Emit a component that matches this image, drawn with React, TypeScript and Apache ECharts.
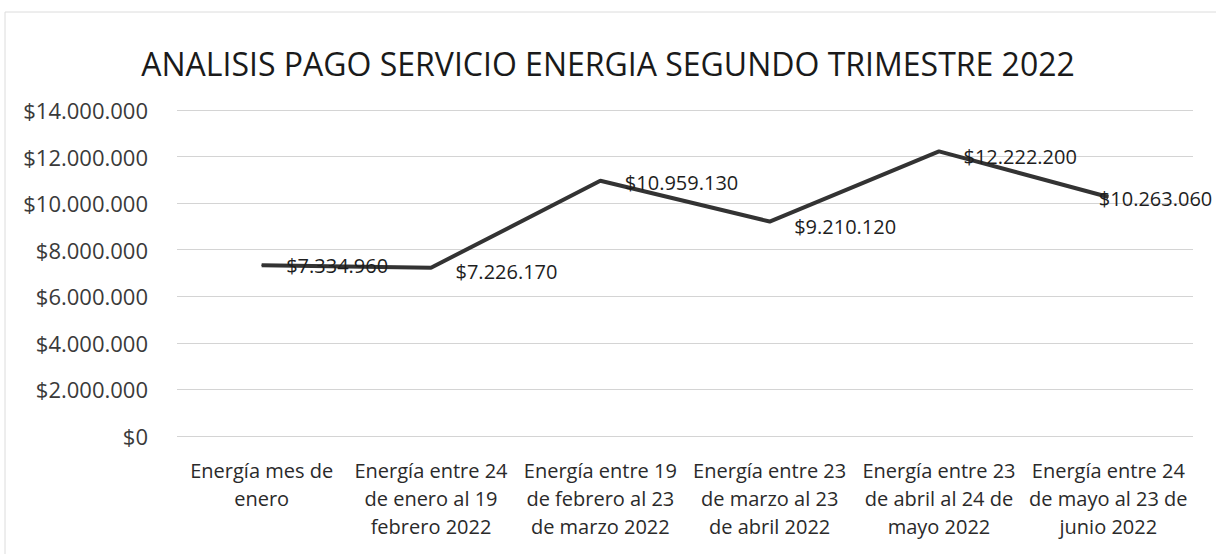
import React, { useEffect, useRef } from "react";
import * as echarts from "echarts";

const categories = [
  "Energía mes de\nenero",
  "Energía entre 24\nde enero al 19\nfebrero 2022",
  "Energía entre 19\nde febrero al 23\nde marzo 2022",
  "Energía entre 23\nde marzo al 23\nde abril 2022",
  "Energía entre 23\nde abril al 24 de\nmayo 2022",
  "Energía entre 24\nde mayo al 23 de\njunio 2022",
];
const values = [7334960, 7226170, 10959130, 9210120, 12222200, 10263060];
const titleText = "ANALISIS PAGO SERVICIO ENERGIA SEGUNDO TRIMESTRE 2022";

const fmt = (v: number) => "$" + Math.round(v).toString().replace(/\B(?=(\d{3})+(?!\d))/g, ".");
const FONT = "'Open Sans', sans-serif";

export default function App() {
  const ref = useRef<HTMLDivElement>(null);
  useEffect(() => {
    document.body.style.margin = "0";
    const chart = echarts.init(ref.current!, undefined, { renderer: "svg" });
    const labelOffsets: number[][] = [[0, 0], [0, 4], [0, 2], [0, 5], [0, 5], [-34, 1]];
    chart.setOption({
      animation: false,
      backgroundColor: "#ffffff",
      title: {
        text: titleText,
        left: "center",
        top: 42,
        textStyle: { fontFamily: FONT, fontSize: 32, fontWeight: "normal", color: "#1a1a1a" },
      },
      graphic: [
        {
          type: "rect",
          shape: { x: 5, y: 12, width: 1220, height: 560 },
          style: { fill: "none", stroke: "#dcdcdc", lineWidth: 1 },
          silent: true,
        },
      ],
      grid: { left: 177, right: 23, top: 110, bottom: 118 },
      xAxis: {
        type: "category",
        data: categories,
        boundaryGap: true,
        axisLine: { show: false },
        axisTick: { show: false },
        axisLabel: {
          interval: 0,
          margin: 20,
          fontFamily: FONT,
          fontSize: 20,
          lineHeight: 28,
          color: "#2a2a2a",
        },
      },
      yAxis: {
        type: "value",
        min: 0,
        max: 14000000,
        interval: 2000000,
        axisLine: { show: false },
        axisTick: { show: false },
        splitLine: { lineStyle: { color: "#d4d4d4", width: 1 } },
        axisLabel: {
          margin: 29,
          fontFamily: FONT,
          fontSize: 22,
          color: "#3a3a3a",
          formatter: (v: number) => fmt(v),
        },
      },
      series: [
        {
          type: "line",
          data: values.map((v, i) => ({ value: v, label: { offset: labelOffsets[i] } })),
          showSymbol: true,
          symbol: "circle",
          symbolSize: 1,
          itemStyle: { color: "#333333" },
          lineStyle: { color: "#333333", width: 4 },
          label: {
            show: true,
            position: "right",
            distance: 24,
            fontFamily: FONT,
            fontSize: 20,
            color: "#1e1e1e",
            formatter: (p: any) => fmt(p.value),
          },
        },
      ],
    });
    return () => chart.dispose();
  }, []);
  return <div ref={ref} style={{ width: 1216, height: 554 }} />;
}
